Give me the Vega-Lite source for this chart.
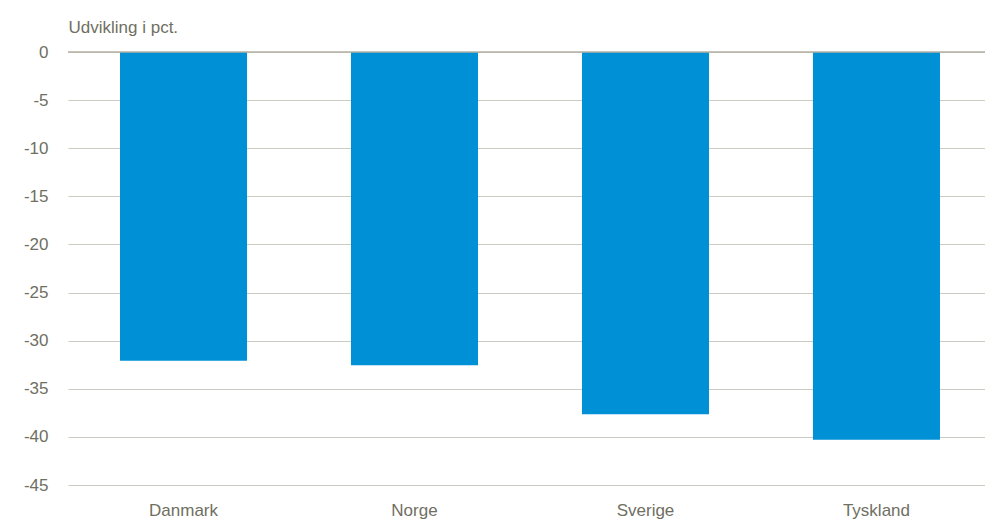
{
  "$schema": "https://vega.github.io/schema/vega-lite/v6.json",
  "width": 917,
  "height": 433,
  "autosize": "none",
  "padding": {"left": 68, "top": 52, "right": 0, "bottom": 37},
  "background": "white",
  "config": {
    "view": {"stroke": null},
    "font": "Liberation Sans"
  },
  "data": {
    "values": [
      {"land": "Danmark", "udvikling": -32.1},
      {"land": "Norge", "udvikling": -32.55},
      {"land": "Sverige", "udvikling": -37.65},
      {"land": "Tyskland", "udvikling": -40.3}
    ]
  },
  "layer": [
    {
      "mark": {"type": "bar", "color": "#0090d5"},
      "encoding": {
        "x": {
          "field": "land",
          "type": "nominal",
          "sort": null,
          "scale": {"paddingInner": 0.45, "paddingOuter": 0.21, "align": 0.536},
          "axis": {
            "title": null,
            "labelAngle": 0,
            "domain": false,
            "ticks": false,
            "labelFontSize": 17,
            "labelColor": "#6f6f62",
            "labelBaseline": "top",
            "labelPadding": 17,
            "grid": false
          }
        },
        "y": {
          "field": "udvikling",
          "type": "quantitative",
          "scale": {"domain": [-45, 0], "nice": false},
          "axis": {
            "values": [0, -5, -10, -15, -20, -25, -30, -35, -40, -45],
            "labelExpr": "toString(datum.value)",
            "domain": false,
            "ticks": false,
            "grid": true,
            "gridColor": "#cdcbc1",
            "gridWidth": 1.2,
            "labelFontSize": 17,
            "labelColor": "#6f6f62",
            "labelPadding": 20,
            "title": "Udvikling i pct.",
            "titleAngle": 0,
            "titleAlign": "left",
            "titleBaseline": "alphabetic",
            "titleX": 0,
            "titleY": -20,
            "titleFontSize": 17,
            "titleFontWeight": "normal",
            "titleColor": "#6f6f62"
          }
        }
      }
    },
    {
      "data": {"values": [{"v": 0}]},
      "mark": {"type": "rule", "color": "#b3b1a3", "strokeWidth": 1.3},
      "encoding": {"y": {"field": "v", "type": "quantitative"}}
    }
  ]
}
